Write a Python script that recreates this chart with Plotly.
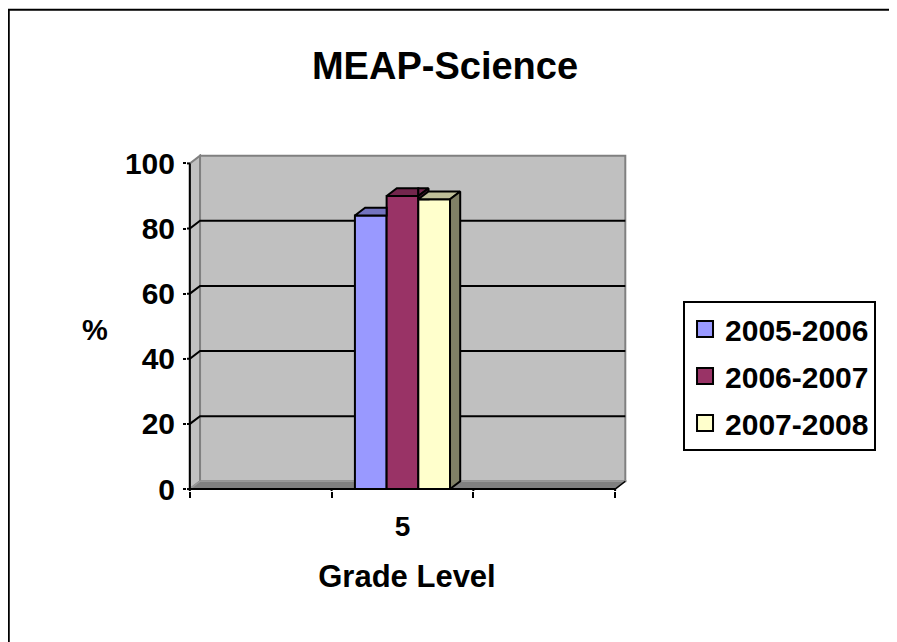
import plotly.graph_objects as go

W, H = 897, 642
OFF = 8  # page body margin: figure origin sits 8px into the viewport

# ---------------- data ----------------
categories = ["5"]
category_positions = [1.5]
series_names = ["2005-2006", "2006-2007", "2007-2008"]
values_2005_2006 = [84]
values_2006_2007 = [90]
values_2007_2008 = [89]
y_tick_values = [0, 20, 40, 60, 80, 100]
x_slot_ticks = [0, 1, 2, 3]

series_values = [values_2005_2006, values_2006_2007, values_2007_2008]

# ---------------- style ----------------
front_colors = ["#9999FF", "#993366", "#FFFFCC"]
top_colors = ["#7373BF", "#73264D", "#BFBF99"]
side_colors = ["#4D4D80", "#4D1A33", "#808066"]
FONT = "Arial, Liberation Sans, Arimo, sans-serif"

# geometry of the pseudo-3D box (pixel scale -> data units)
PX_X, PX_Y = 141.7, 3.265
X0, Y0 = 190.0 - OFF, 489.5 - OFF
DX, DY = 10.2 / PX_X, 7.8 / PX_Y
XMIN, XMAX = -0.02, 3 + DX + 0.012
YMIN, YMAX = -0.6, 100 + DY + 0.5
L = X0 + XMIN * PX_X
R = X0 + XMAX * PX_X
T = Y0 - YMAX * PX_Y
B = Y0 - YMIN * PX_Y
pw, ph = R - L, B - T


def px_x(p):
    return (p - OFF - L) / pw


def px_y(p):
    return (B - (p - OFF)) / ph


BW = 0.2236

fig = go.Figure()

# ---------- front faces: real bars ----------
n = len(series_names)
for i, (name, vals) in enumerate(zip(series_names, series_values)):
    fig.add_trace(go.Bar(
        x=category_positions, y=vals, width=BW, offset=-n * BW / 2 + i * BW,
        marker=dict(color=front_colors[i], line=dict(color="black", width=2)),
        name=name, legendgroup=name, showlegend=False,
        hovertemplate=name + ": %{y}<extra></extra>",
    ))


# ---------- 3D faces (top / side) with simple occlusion clipping ----------
def clip(poly, inside, inter):
    out = []
    for k in range(len(poly)):
        cur, prev = poly[k], poly[k - 1]
        if inside(cur):
            if not inside(prev):
                out.append(inter(prev, cur))
            out.append(cur)
        elif inside(prev):
            out.append(inter(prev, cur))
    return out


def clip_x_le(poly, X):
    return clip(poly, lambda p: p[0] <= X + 1e-12,
                lambda a, b: (X, a[1] + (b[1] - a[1]) * (X - a[0]) / (b[0] - a[0])))


def clip_x_ge(poly, X):
    return clip(poly, lambda p: p[0] >= X - 1e-12,
                lambda a, b: (X, a[1] + (b[1] - a[1]) * (X - a[0]) / (b[0] - a[0])))


def clip_y_ge(poly, Y):
    return clip(poly, lambda p: p[1] >= Y - 1e-12,
                lambda a, b: (a[0] + (b[0] - a[0]) * (Y - a[1]) / (b[1] - a[1]), Y))


def area(poly):
    s = 0
    for k in range(len(poly)):
        x1, y1 = poly[k - 1]
        x2, y2 = poly[k]
        s += x1 * y2 - x2 * y1
    return abs(s) / 2


def visible(poly, x_next, v_next):
    if v_next is None:
        return [poly]
    a = clip_x_le(poly, x_next)
    b = clip_y_ge(clip_x_ge(poly, x_next), v_next)
    return [p for p in (a, b) if len(p) >= 3 and area(p) > 1e-6]


for j, pos in enumerate(category_positions):
    for i in range(n):
        v = series_values[i][j]
        x0 = pos - n * BW / 2 + i * BW
        x1 = x0 + BW
        v_next = series_values[i + 1][j] if i + 1 < n else None
        top = [(x0, v), (x1, v), (x1 + DX, v + DY), (x0 + DX, v + DY)]
        side = [(x1, 0), (x1 + DX, DY), (x1 + DX, v + DY), (x1, v)]
        for poly, col in ((top, top_colors[i]), (side, side_colors[i])):
            for piece in visible(poly, x1, v_next):
                xs = [p[0] for p in piece] + [piece[0][0]]
                ys = [p[1] for p in piece] + [piece[0][1]]
                fig.add_trace(go.Scatter(
                    x=xs, y=ys, mode="lines", fill="toself", fillcolor=col,
                    line=dict(color="black", width=2), showlegend=False,
                    hoverinfo="skip",
                ))

# ---------- legend proxies ----------
for i, name in enumerate(series_names):
    fig.add_trace(go.Scatter(
        x=[None], y=[None], mode="markers", name=name, legendgroup=name,
        marker=dict(symbol="square", size=16, color=front_colors[i],
                    line=dict(color="black", width=2)),
    ))

# ---------- walls, floor, gridlines (shapes below traces) ----------
shapes = []
shapes.append(dict(type="path", xref="x", yref="y", layer="below",
                   path=f"M 0,0 L 0,100 L {DX},{100 + DY} L {DX},{DY} Z",
                   fillcolor="#C0C0C0", line=dict(color="#808080", width=2)))
shapes.append(dict(type="rect", xref="x", yref="y", layer="below",
                   x0=DX, x1=3 + DX, y0=DY, y1=100 + DY,
                   fillcolor="#C0C0C0", line=dict(color="#808080", width=2)))
shapes.append(dict(type="path", xref="x", yref="y", layer="below",
                   path=f"M 0,0 L 3,0 L {3 + DX},{DY} L {DX},{DY} Z",
                   fillcolor="#808080", line=dict(color="#999999", width=1.5)))
for v in y_tick_values[1:-1]:
    shapes.append(dict(type="path", xref="x", yref="y", layer="below",
                       path=f"M {XMIN},{v} L 0,{v} L {DX},{v + DY} L {3 + DX},{v + DY}",
                       line=dict(color="black", width=2)))
for v in (y_tick_values[0], y_tick_values[-1]):
    shapes.append(dict(type="line", xref="x", yref="y", layer="above",
                       x0=XMIN, x1=0, y0=v, y1=v, line=dict(color="black", width=2)))
# front axes
shapes.append(dict(type="line", xref="x", yref="y", layer="above",
                   x0=0, x1=0, y0=0, y1=100, line=dict(color="black", width=2)))
shapes.append(dict(type="line", xref="x", yref="y", layer="above",
                   x0=0, x1=3, y0=0, y1=0, line=dict(color="black", width=2)))
shapes.append(dict(type="line", xref="x", yref="y", layer="above",
                   x0=3, x1=3 + DX, y0=0, y1=DY, line=dict(color="black", width=1.5)))
for t in x_slot_ticks:
    shapes.append(dict(type="line", xref="x", yref="y", layer="above",
                       x0=t, x1=t, y0=0, y1=YMIN, line=dict(color="black", width=2)))
# outer chart border (top and left visible)
shapes.append(dict(type="path", xref="paper", yref="paper",
                   path=f"M {px_x(9)},{px_y(700)} L {px_x(9)},{px_y(9)} L {px_x(960)},{px_y(9)}",
                   line=dict(color="black", width=2)))

fig.update_layout(
    width=W, height=H,
    margin=dict(l=L, r=W - R, t=T, b=H - B, pad=0),
    paper_bgcolor="white", plot_bgcolor="white",
    barmode="overlay",
    shapes=shapes,
    font=dict(family=FONT, color="black"),
    title=dict(text="MEAP-Science", x=(445 - OFF) / W, xanchor="center", xref="container",
               y=1 - (66 - OFF) / H, yanchor="middle", yref="container",
               font=dict(family=FONT, size=38, color="black", weight="bold")),
    xaxis=dict(range=[XMIN, XMAX], tickmode="array", tickvals=category_positions,
               ticktext=categories, ticks="", showgrid=False, zeroline=False,
               showline=False, ticklabelstandoff=16,
               tickfont=dict(family=FONT, size=28, color="black", weight="bold"),
               minor=dict(tickmode="array", tickvals=x_slot_ticks, ticks="outside",
                          ticklen=6, tickwidth=2, tickcolor="black", showgrid=False),
               title=dict(text="Grade Level", standoff=24,
                          font=dict(family=FONT, size=31, color="black", weight="bold"))),
    yaxis=dict(range=[YMIN, YMAX], tickmode="array", tickvals=y_tick_values,
               ticks="outside", ticklen=3, tickwidth=2, tickcolor="black",
               showgrid=False, zeroline=False, showline=False, ticklabelstandoff=2,
               tickfont=dict(family=FONT, size=30, color="black", weight="bold")),
    legend=dict(x=px_x(683), y=px_y(301), xanchor="left", yanchor="top",
                bgcolor="white", bordercolor="black", borderwidth=2,
                tracegroupgap=5, itemclick=False, itemdoubleclick=False,
                font=dict(family=FONT, size=30, color="black", weight="bold")),
    annotations=[dict(text="%", x=px_x(95), y=px_y(330), xref="paper", yref="paper",
                      showarrow=False, xanchor="center", yanchor="middle",
                      font=dict(family=FONT, size=29, color="black", weight="bold"))],
    showlegend=True,
)

fig.write_html("out.html")
